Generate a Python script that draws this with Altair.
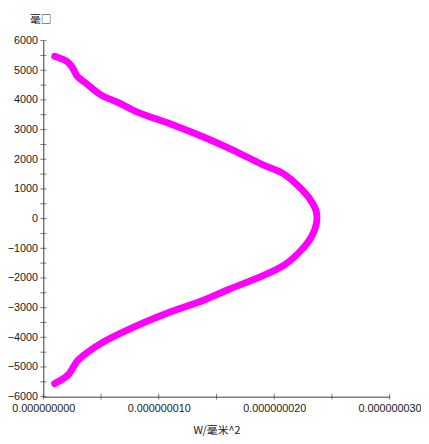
import altair as alt
import pandas as pd

# depth (mm) and flux density values
depth = [5470, 5280, 5060, 4790, 4570, 4180, 3910, 3580, 3190, 2750, 2310, 1820, 1540, 1100, 660, 220,
         -165, -610, -1050, -1540, -1930, -2370, -2750, -3140, -3690, -4180, -4510, -4790, -5280, -5560]
flux = [0.098e-8, 0.211e-8, 0.257e-8, 0.296e-8, 0.367e-8, 0.495e-8, 0.650e-8, 0.821e-8, 1.104e-8, 1.388e-8,
        1.643e-8, 1.898e-8, 2.068e-8, 2.209e-8, 2.309e-8, 2.366e-8,
        2.366e-8, 2.323e-8, 2.238e-8, 2.096e-8, 1.898e-8, 1.614e-8, 1.388e-8, 1.104e-8, 0.764e-8,
        0.509e-8, 0.381e-8, 0.296e-8, 0.211e-8, 0.098e-8]

y_ticks = list(range(-6000, 6001, 500))
y_labels = list(range(-6000, 6001, 1000))
x_ticks = [0, 0.5e-8, 1e-8, 1.5e-8, 2e-8, 2.5e-8, 3e-8]
x_labels = [0, 1e-8, 2e-8, 3e-8]

df = pd.DataFrame({"x": flux, "y": depth, "i": range(len(depth))})
ydf = pd.DataFrame({"y": y_ticks, "x": [0] * len(y_ticks)})
xdf = pd.DataFrame({"x": x_ticks, "y": [-6000] * len(x_ticks)})

LBL = "Liberation Sans"
CJK = "Noto Sans CJK SC"
AX = "#3a3a3a"

xscale = alt.Scale(domain=[0, 3e-8], nice=False, zero=False)
yscale = alt.Scale(domain=[-6000, 6000], nice=False, zero=False)

xaxis = alt.Axis(values=x_labels, format=".9f", title="W/毫米^2", ticks=False, grid=False,
                 domainColor=AX, labelColor="#1a1a1a", labelFont=LBL, labelFontSize=11,
                 labelPadding=6, labelOverlap=False, labelFlush=False,
                 titleFont=CJK, titleFontSize=11, titleFontWeight="normal",
                 titleColor="#1a1a1a", titleY=35, titleBaseline="middle")
yaxis = alt.Axis(values=y_labels, format="d", title="毫□", ticks=False, grid=False,
                 domainColor=AX, labelColor="#1a1a1a", labelFont=LBL, labelFontSize=11,
                 labelPadding=6, labelOverlap=False, labelFlush=False,
                 titleFont=CJK, titleFontSize=11, titleFontWeight="normal",
                 titleColor="#1a1a1a", titleAngle=0, titleX=-3, titleY=-21,
                 titleAlign="center", titleBaseline="middle")

line = alt.Chart(df).mark_line(color="#ff00ff", strokeWidth=7, strokeCap="round", strokeJoin="round",
                               interpolate="catmull-rom").encode(
    x=alt.X("x:Q", scale=xscale, axis=xaxis),
    y=alt.Y("y:Q", scale=yscale, axis=yaxis),
    order="i:Q",
)

yt = alt.Chart(ydf).mark_tick(orient="horizontal", color=AX, size=6, thickness=1).encode(
    x=alt.X("x:Q", scale=xscale, axis=xaxis), y=alt.Y("y:Q", scale=yscale, axis=yaxis))
xt = alt.Chart(xdf).mark_tick(orient="vertical", color=AX, size=6, thickness=1).encode(
    x=alt.X("x:Q", scale=xscale, axis=xaxis), y=alt.Y("y:Q", scale=yscale, axis=yaxis))

chart = alt.layer(line, yt, xt).properties(
    width=353, height=363,
    autosize=alt.AutoSizeParams(type="none"),
    padding={"left": 36, "top": 29, "right": 32, "bottom": 42},
).configure_view(stroke=None)

chart.save("out.html", embed_options={"renderer": "svg", "actions": False})
